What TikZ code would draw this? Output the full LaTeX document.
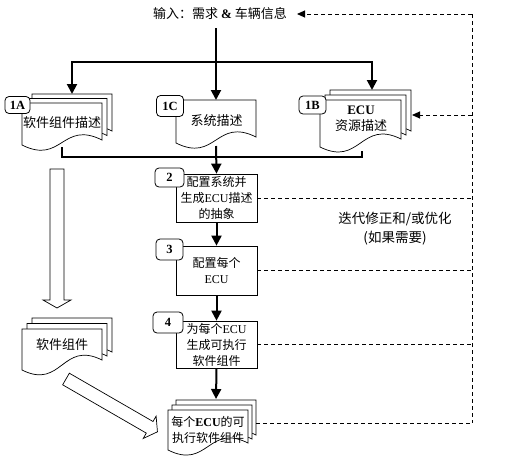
\documentclass[tikz,border=0pt]{standalone}
\usepackage{fontspec}
\setmainfont{Noto Sans CJK SC}
\newfontfamily\lt{Liberation Serif}
\usetikzlibrary{arrows.meta}
\tikzset{
 box/.style={draw, line width=0.7pt, fill=white, minimum width=81pt, inner sep=0pt, align=center, font=\fontsize{12}{16}\selectfont},
 lbl/.style={draw, line width=0.8pt, fill=white, rounded corners=4pt, inner sep=0pt, font=\lt\bfseries\fontsize{12.5}{14}\selectfont},
 flow/.style={line width=2pt, -{Triangle[length=10pt,width=10pt]}},
 bus/.style={line width=2pt},
 fb/.style={line width=1pt, dash pattern=on 4pt off 3pt},
 fbarrow/.style={fb, -{Triangle[length=8pt,width=7pt]}},
 doc/.style={draw, line width=0.7pt, fill=white},
 txt/.style={font=\fontsize{13}{16.5}\selectfont, align=center, inner sep=0pt},
 hollow/.style={draw, line width=0.7pt, fill=white},
}
\newcommand\docshape[5]{%
 \path[doc] (#1,#2) -- (#3,#2) -- (#3,#5) .. controls ({(#1+#3)/2},{#5-20}) and ({(#1+#3)/2},{#4+20}) .. (#1,#4) -- cycle;}
\begin{document}
\begin{tikzpicture}[x=1pt,y=-1pt]
\useasboundingbox (0,0) rectangle (508,461);
% ---------- coordinates ----------
\coordinate (inB) at (216,28);
\coordinate (inE) at (297,14);
\coordinate (j1) at (216,62);
\coordinate (aA) at (72,94);
\coordinate (aB) at (372,90);
\coordinate (aC) at (216,100);
\coordinate (dA) at (62,147);
\coordinate (dB) at (362,151);
\coordinate (dC) at (216,146);
\coordinate (j2) at (216,157);
\coordinate (aF) at (216,399);
\coordinate (dF) at (256,423);
\coordinate (rt) at (472,14);
\coordinate (rb) at (472,423);
\coordinate (r1B) at (472,115);
\coordinate (a1B) at (412,115);
% ---------- hollow arrows ----------
\path[hollow] (50,169) -- (64,169) -- (64,300) -- (71,300) -- (57,308) -- (43,300) -- (50,300) -- cycle;
\begin{scope}[shift={(66,379)}, rotate=-30]
\path[hollow] (0,-6.7) -- (96.6,-6.7) -- (96.6,-12.9) -- (105.6,0) -- (96.6,12.9) -- (96.6,6.7) -- (0,6.7) -- cycle;
\end{scope}
% ---------- documents ----------
% 1A
\docshape{32}{94}{112}{136}{131}
\docshape{27}{98.5}{107}{140.5}{135.5}
\docshape{22}{103}{102}{145}{140}
% 1C
\docshape{176}{100}{256}{143}{137}
% 1B
\docshape{330}{90}{411}{137}{131}
\docshape{325}{95}{406}{142}{135}
\docshape{320}{100}{401}{147}{139}
% software components (left)
\docshape{32}{318}{112}{362}{352}
\docshape{27}{323.5}{107}{366}{356}
\docshape{22}{329}{102}{370}{360}
% final
\docshape{176}{400}{256}{442}{435}
\docshape{172}{405}{252}{446}{439}
\docshape{168}{410}{248}{450}{443}
% ---------- text ----------
\node[txt] (in) at (220,14) {输入：需求 {\lt\bfseries\&} 车辆信息};
\node[txt] (tA) at (62,123) {软件组件描述};
\node[txt] (tC) at (216.5,121) {系统描述};
\node[txt] (tB) at (361,118.5) {{\lt\bfseries ECU}\\资源描述};
\node[txt] (tS) at (62,345) {软件组件};
\node[txt, font=\fontsize{12}{16}\selectfont] (tF) at (208,430) {每个{\lt\bfseries ECU}的可\\执行软件组件};
\node[txt, font=\fontsize{13.5}{19}\selectfont] (it) at (395,228.5) {迭代修正和/或优化\\(如果需要)};
% ---------- boxes ----------
\node[box, minimum height=48pt] (b2) at (216.5,198) {配置系统并\\生成{\lt ECU}描述\\的抽象};
\node[box, minimum height=49pt] (b3) at (216.5,270.5) {配置每个\\{\lt ECU}};
\node[box, minimum height=47pt] (b4) at (216.5,344.5) {为每个{\lt ECU}\\生成可执行\\软件组件};
% ---------- labels ----------
\node[lbl, minimum width=25pt, minimum height=17pt] (l1A) at (17.5,105) {1A};
\node[lbl, minimum width=27pt, minimum height=21pt] (l1C) at (170,106) {1C};
\node[lbl, minimum width=27pt, minimum height=18pt] (l1B) at (312.5,105) {1B};
\node[lbl, minimum width=29pt, minimum height=19pt] (l2) at (169.5,177.5) {2};
\node[lbl, minimum width=27pt, minimum height=21pt] (l3) at (169.5,249.5) {3};
\node[lbl, minimum width=30pt, minimum height=21pt] (l4) at (168,322.5) {4};
% ---------- main flow ----------
\draw[flow] (inB) -- (aC);
\draw[flow] (j1) -| (aA);
\draw[flow] (j1) -| (aB);
\draw[bus] (dA) |- (j2) -| (dB);
\draw[flow] (dC) -- (b2.north);
\draw[flow] (b2.south) -- (b3.north);
\draw[flow] (b3.south) -- (b4.north);
\draw[flow] (b4.south) -- (aF);
% ---------- feedback ----------
\draw[fb] (rt) -- (rb);
\draw[fbarrow] (rt) -- (inE);
\draw[fbarrow] (r1B) -- (a1B);
\draw[fb] (b2.east) -- (b2.east -| rt);
\draw[fb] (b3.east) -- (b3.east -| rt);
\draw[fb] (b4.east) -- (b4.east -| rt);
\draw[fb] (dF) -- (rb);
\end{tikzpicture}
\end{document}
